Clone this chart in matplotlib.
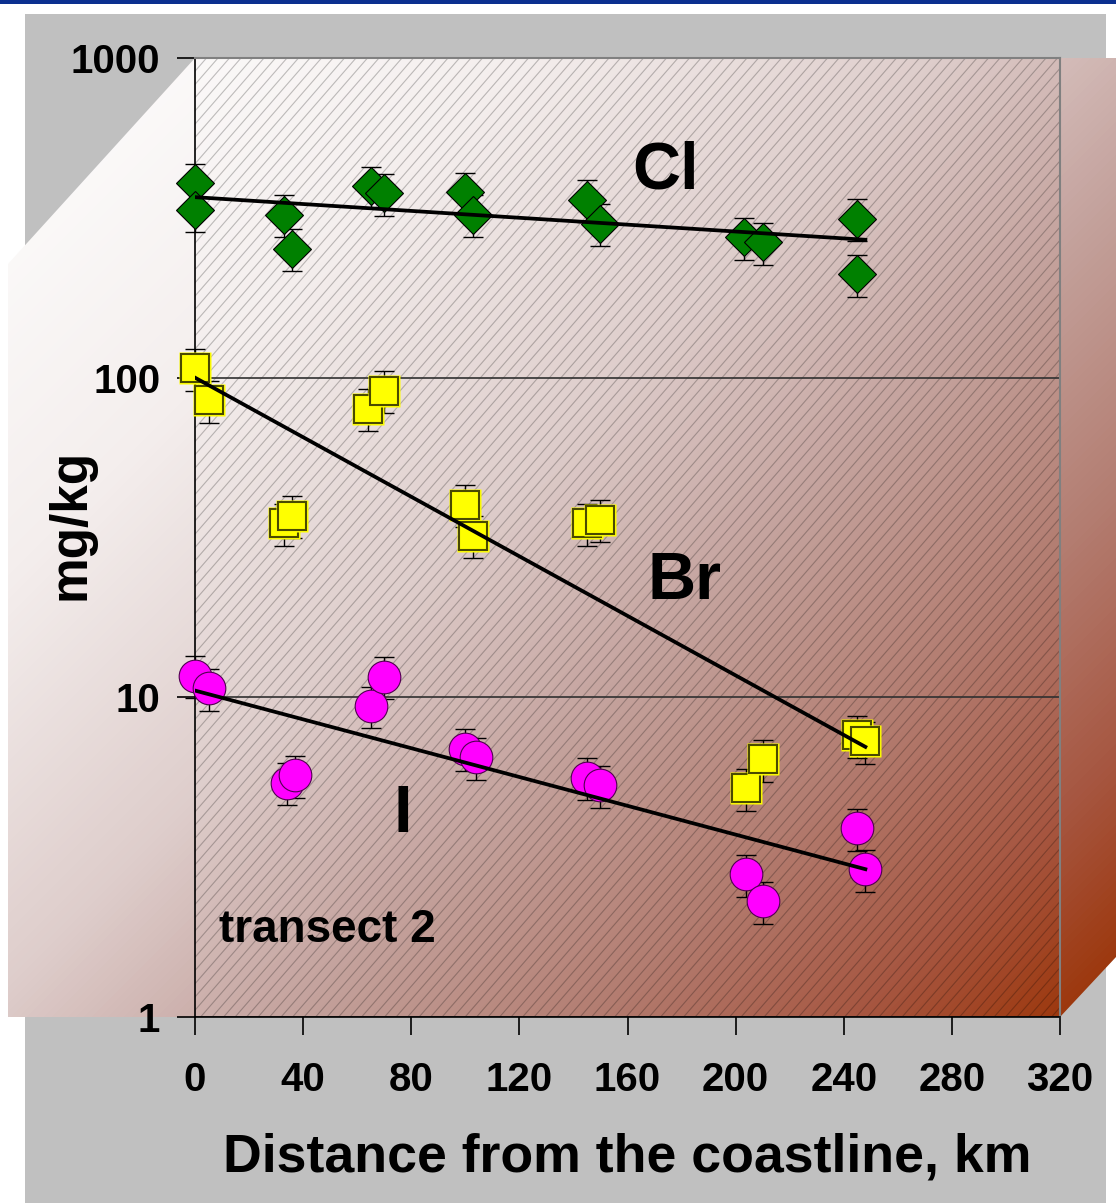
import numpy as np
import matplotlib.pyplot as plt
from matplotlib.colors import LinearSegmentedColormap
from matplotlib.patches import Polygon, Rectangle
from matplotlib.collections import LineCollection
from matplotlib.ticker import NullLocator

plt.rcParams['font.family'] = ['Liberation Sans', 'DejaVu Sans']
plt.rcParams['font.weight'] = 'bold'
plt.rcParams['axes.labelweight'] = 'bold'

# values (distance in km, concentration in mg/kg)
cl_x = [0, 0, 33, 36, 65, 70, 100, 103, 145, 150, 203, 210, 245, 245]
cl_y = [406, 335, 323, 253, 398, 378, 380, 323, 360, 303, 275, 265, 314, 211]
br_x = [0, 5, 33, 36, 64, 70, 100, 103, 145, 150, 204, 210, 245, 248]
br_y = [107, 85, 35, 37, 80, 91, 40, 32, 35, 36, 5.2, 6.4, 7.6, 7.3]
i_x = [0, 5, 34, 37, 65, 70, 100, 104, 145, 150, 204, 210, 245, 248]
i_y = [11.7, 10.7, 5.4, 5.7, 9.4, 11.6, 6.9, 6.5, 5.6, 5.3, 2.8, 2.3, 3.9, 2.9]
ERR = 0.15  # percentage error bars

# exponential trend lines (end points)
trend_x = [0, 248]
cl_trend = [367, 270]
br_trend = [100, 7.0]
i_trend = [10.5, 2.9]

x_ticks = [0, 40, 80, 120, 160, 200, 240, 280, 320]
y_ticks = [1, 10, 100, 1000]
y_labels = ['1', '10', '100', '1000']

W, H = 1116, 1203
PX0, PX1, PY0, PY1 = 195, 1060, 58, 1017

fig = plt.figure(figsize=(W / 100, H / 100), dpi=100)
fig.patch.set_facecolor('white')

# background: frame, 3d walls with gradient, hatching
bg = fig.add_axes([0, 0, 1, 1])
bg.axis('off')
bg.add_patch(Rectangle((0, 0), W, 3.5, color='#0B2F8F', lw=0, zorder=1))
bg.add_patch(Rectangle((25, 14), 1081, H - 14, color='#C0C0C0', lw=0, zorder=1))
box = Polygon([(8, 264), (195, 58), (1116, 58), (1116, 957), (1060, 1017), (8, 1017)],
              closed=True, fc='none', ec='none')
bg.add_patch(box)
yy, xx = np.mgrid[0:H, 0:W]
t = np.clip((xx + yy - 66) / 2067.0, 0, 1)
wall = LinearSegmentedColormap.from_list('wall', [
    (0.0, '#FFFFFF'), (0.25, '#F4EEED'), (0.45, '#DECDCB'), (0.6, '#C4A29D'),
    (0.75, '#B37C70'), (0.88, '#A6553F'), (1.0, '#9A3000')])
im = bg.imshow(t, cmap=wall, vmin=0, vmax=1, extent=(0, W, H, 0),
               interpolation='bilinear', aspect='auto', zorder=2)
im.set_clip_path(box)

k = 1.15
span = (PY1 - PY0) / k
segs = [[(x0, PY1), (x0 + span, PY0)] for x0 in np.arange(PX0 - span, PX1, 11.5)]
hatch = LineCollection(segs, colors='k', linewidths=0.8, alpha=0.24, zorder=3)
bg.add_collection(hatch)
hatch.set_clip_path(Rectangle((PX0, PY0), PX1 - PX0, PY1 - PY0, transform=bg.transData))
bg.set_xlim(0, W)
bg.set_ylim(H, 0)

# main plot
ax = fig.add_axes([PX0 / W, 1 - PY1 / H, (PX1 - PX0) / W, (PY1 - PY0) / H])
ax.patch.set_visible(False)
ax.set_yscale('log')
ax.set_xlim(0, 320)
ax.set_ylim(1, 1000)
ax.set_xticks(x_ticks)
ax.set_yticks(y_ticks, labels=y_labels)
ax.yaxis.set_minor_locator(NullLocator())
ax.grid(axis='y', which='major', color='#303030', lw=1.2)
ax.tick_params(direction='out', length=13, width=1.2, labelsize=29, color='k')
ax.tick_params(axis='y', pad=12)
ax.tick_params(axis='x', pad=19)
for s in ['top', 'right']:
    ax.spines[s].set_color('#808080')
    ax.spines[s].set_linewidth(1.5)
for s in ['left', 'bottom']:
    ax.spines[s].set_color('k')
    ax.spines[s].set_linewidth(1.2)


def err_bars(x, y):
    y = np.array(y)
    eb = ax.errorbar(x, y, yerr=[y * ERR, y * ERR], fmt='none', ecolor='k',
                     elinewidth=1, capsize=7.5, capthick=1, zorder=3)
    for a in list(eb[1]) + list(eb[2]):
        a.set_clip_on(False)


err_bars(cl_x, cl_y)
err_bars(br_x, br_y)
err_bars(i_x, i_y)

ax.plot(cl_x, cl_y, ls='none', marker='D', ms=19, mfc='#008000', mec='k',
        mew=0.8, clip_on=False, zorder=4)
for xi, yi in zip(br_x, br_y):
    ax.plot([xi], [yi], ls='none', marker='s', ms=22.5, mfc='#FFFF00', mec='none',
            clip_on=False, zorder=4)
    ax.plot([xi], [yi], ls='none', marker='s', ms=20.5, mfc='#FFFF00', mec='#4A4A00',
            mew=1.5, clip_on=False, zorder=4)
ax.plot(i_x, i_y, ls='none', marker='o', ms=23.5, mfc='#FF00FF', mec='#500050',
        mew=0.8, clip_on=False, zorder=4)

for ty in [cl_trend, br_trend, i_trend]:
    ax.plot(trend_x, ty, color='k', lw=2.7, zorder=6)

ax.text(174, 440, 'Cl', fontsize=48, ha='center', va='center')
ax.text(181, 22.9, 'Br', fontsize=48, ha='center', va='center')
ax.text(77, 4.29, 'I', fontsize=48, ha='center', va='center')
ax.text(9, 1.87, 'transect 2', fontsize=33, ha='left', va='center')

ax.set_xlabel('Distance from the coastline, km', fontsize=38.6, fontweight='bold')
ax.xaxis.set_label_coords(0.5, -0.146)
ax.xaxis.label.set_va('center')
ax.set_ylabel('mg/kg', fontsize=37, fontweight='bold')
ax.yaxis.set_label_coords(-0.1434, 0.514)
ax.yaxis.label.set_va('center')

fig.savefig('out.png', dpi=100)
